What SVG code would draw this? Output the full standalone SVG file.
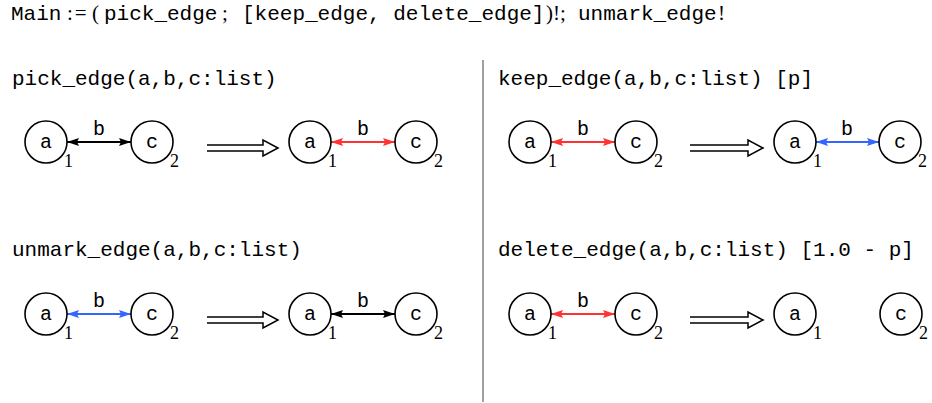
<svg xmlns="http://www.w3.org/2000/svg" width="932" height="403" viewBox="0 0 932 403">
<style>
.tt{font-family:"Liberation Mono","DejaVu Sans Mono",monospace;font-size:21px;fill:#000}
.rm{font-family:"Liberation Serif","DejaVu Serif",serif;font-size:21px;fill:#000}
.node circle{fill:#fff;stroke:#000;stroke-width:1.6}
.lbl{font-family:"Liberation Mono","DejaVu Sans Mono",monospace;font-size:20px;text-anchor:middle;fill:#000}
.sub{font-family:"Liberation Serif","DejaVu Serif",serif;font-size:18px;fill:#000}
.e{stroke-width:2;fill:none}
.ek{stroke:#000}
.er{stroke:#ff3333}
.eb{stroke:#3366ff}
.imp{fill:none;stroke:#000;stroke-width:1.5;stroke-linejoin:miter}
</style>
<defs>
<marker id="hk" viewBox="0 0 12 10" refX="12" refY="5" markerWidth="12" markerHeight="10" markerUnits="userSpaceOnUse" orient="auto-start-reverse"><path d="M0,1 L12,5 L0,9 L2,5 Z" fill="#000"/></marker>
<marker id="hr" viewBox="0 0 12 10" refX="12" refY="5" markerWidth="12" markerHeight="10" markerUnits="userSpaceOnUse" orient="auto-start-reverse"><path d="M0,1 L12,5 L0,9 L2,5 Z" fill="#ff3333"/></marker>
<marker id="hb" viewBox="0 0 12 10" refX="12" refY="5" markerWidth="12" markerHeight="10" markerUnits="userSpaceOnUse" orient="auto-start-reverse"><path d="M0,1 L12,5 L0,9 L2,5 Z" fill="#3366ff"/></marker>
</defs>

<g id="title">
<text class="tt" x="11" y="20">Main</text>
<text class="rm" x="67" y="20" letter-spacing="2">:=</text>
<text class="rm" x="92" y="20">(</text>
<text class="tt" x="104" y="20">pick_edge</text>
<text class="rm" x="222" y="20">;</text>
<text class="tt" x="242" y="20">[keep_edge, delete_edge]</text>
<text class="rm" x="546" y="20">)!;</text>
<text class="tt" x="578" y="20">unmark_edge</text>
<text class="rm" x="718" y="20">!</text>
</g>

<line id="divider" x1="483" y1="60" x2="483" y2="402" stroke="#808080" stroke-width="1.5"/>

<g id="rule-titles">
<text class="tt" x="12" y="85">pick_edge(a,b,c:list)</text>
<text class="tt" x="498" y="85">keep_edge(a,b,c:list) [p]</text>
<text class="tt" x="12" y="256">unmark_edge(a,b,c:list)</text>
<text class="tt" x="498" y="256">delete_edge(a,b,c:list) [1.0 - p]</text>
</g>

<g id="connectors">
<path class="e ek" d="M67,142 H131" marker-start="url(#hk)" marker-end="url(#hk)"/>
<path class="e er" d="M331,142 H395" marker-start="url(#hr)" marker-end="url(#hr)"/>
<path class="e er" d="M551,142 H615" marker-start="url(#hr)" marker-end="url(#hr)"/>
<path class="e eb" d="M816,142 H879" marker-start="url(#hb)" marker-end="url(#hb)"/>
<path class="e eb" d="M67,314 H131" marker-start="url(#hb)" marker-end="url(#hb)"/>
<path class="e ek" d="M331,314 H395" marker-start="url(#hk)" marker-end="url(#hk)"/>
<path class="e er" d="M551,314 H615" marker-start="url(#hr)" marker-end="url(#hr)"/>
<text class="lbl" x="99" y="135">b</text>
<text class="lbl" x="363" y="135">b</text>
<text class="lbl" x="583" y="135">b</text>
<text class="lbl" x="847" y="135">b</text>
<text class="lbl" x="99" y="307">b</text>
<text class="lbl" x="363" y="307">b</text>
<text class="lbl" x="583" y="307">b</text>
<path class="imp" d="M207,145 H263 V140 L278,148 L263,156 V151 H207"/>
<path class="imp" d="M690,145 H748 V140 L763,148 L748,156 V151 H690"/>
<path class="imp" d="M207,317 H263 V312 L278,320 L263,328 V323 H207"/>
<path class="imp" d="M690,317 H748 V312 L763,320 L748,328 V323 H690"/>
</g>

<g id="pick-l-a" class="node"><circle cx="46" cy="142" r="21"/><text class="lbl" x="46" y="148">a</text><text class="sub" x="64" y="167">1</text></g>
<g id="pick-l-c" class="node"><circle cx="152" cy="142" r="21"/><text class="lbl" x="152" y="148">c</text><text class="sub" x="170" y="167">2</text></g>
<g id="pick-r-a" class="node"><circle cx="310" cy="142" r="21"/><text class="lbl" x="310" y="148">a</text><text class="sub" x="328" y="167">1</text></g>
<g id="pick-r-c" class="node"><circle cx="416" cy="142" r="21"/><text class="lbl" x="416" y="148">c</text><text class="sub" x="434" y="167">2</text></g>

<g id="keep-l-a" class="node"><circle cx="530" cy="142" r="21"/><text class="lbl" x="530" y="148">a</text><text class="sub" x="548" y="167">1</text></g>
<g id="keep-l-c" class="node"><circle cx="636" cy="142" r="21"/><text class="lbl" x="636" y="148">c</text><text class="sub" x="654" y="167">2</text></g>
<g id="keep-r-a" class="node"><circle cx="795" cy="142" r="21"/><text class="lbl" x="795" y="148">a</text><text class="sub" x="813" y="167">1</text></g>
<g id="keep-r-c" class="node"><circle cx="900" cy="142" r="21"/><text class="lbl" x="900" y="148">c</text><text class="sub" x="918" y="167">2</text></g>

<g id="unmark-l-a" class="node"><circle cx="46" cy="314" r="21"/><text class="lbl" x="46" y="320">a</text><text class="sub" x="64" y="339">1</text></g>
<g id="unmark-l-c" class="node"><circle cx="152" cy="314" r="21"/><text class="lbl" x="152" y="320">c</text><text class="sub" x="170" y="339">2</text></g>
<g id="unmark-r-a" class="node"><circle cx="310" cy="314" r="21"/><text class="lbl" x="310" y="320">a</text><text class="sub" x="328" y="339">1</text></g>
<g id="unmark-r-c" class="node"><circle cx="416" cy="314" r="21"/><text class="lbl" x="416" y="320">c</text><text class="sub" x="434" y="339">2</text></g>

<g id="delete-l-a" class="node"><circle cx="530" cy="314" r="21"/><text class="lbl" x="530" y="320">a</text><text class="sub" x="548" y="339">1</text></g>
<g id="delete-l-c" class="node"><circle cx="636" cy="314" r="21"/><text class="lbl" x="636" y="320">c</text><text class="sub" x="654" y="339">2</text></g>
<g id="delete-r-a" class="node"><circle cx="795" cy="314" r="21"/><text class="lbl" x="795" y="320">a</text><text class="sub" x="813" y="339">1</text></g>
<g id="delete-r-c" class="node"><circle cx="901" cy="314" r="21"/><text class="lbl" x="901" y="320">c</text><text class="sub" x="919" y="339">2</text></g>
</svg>
